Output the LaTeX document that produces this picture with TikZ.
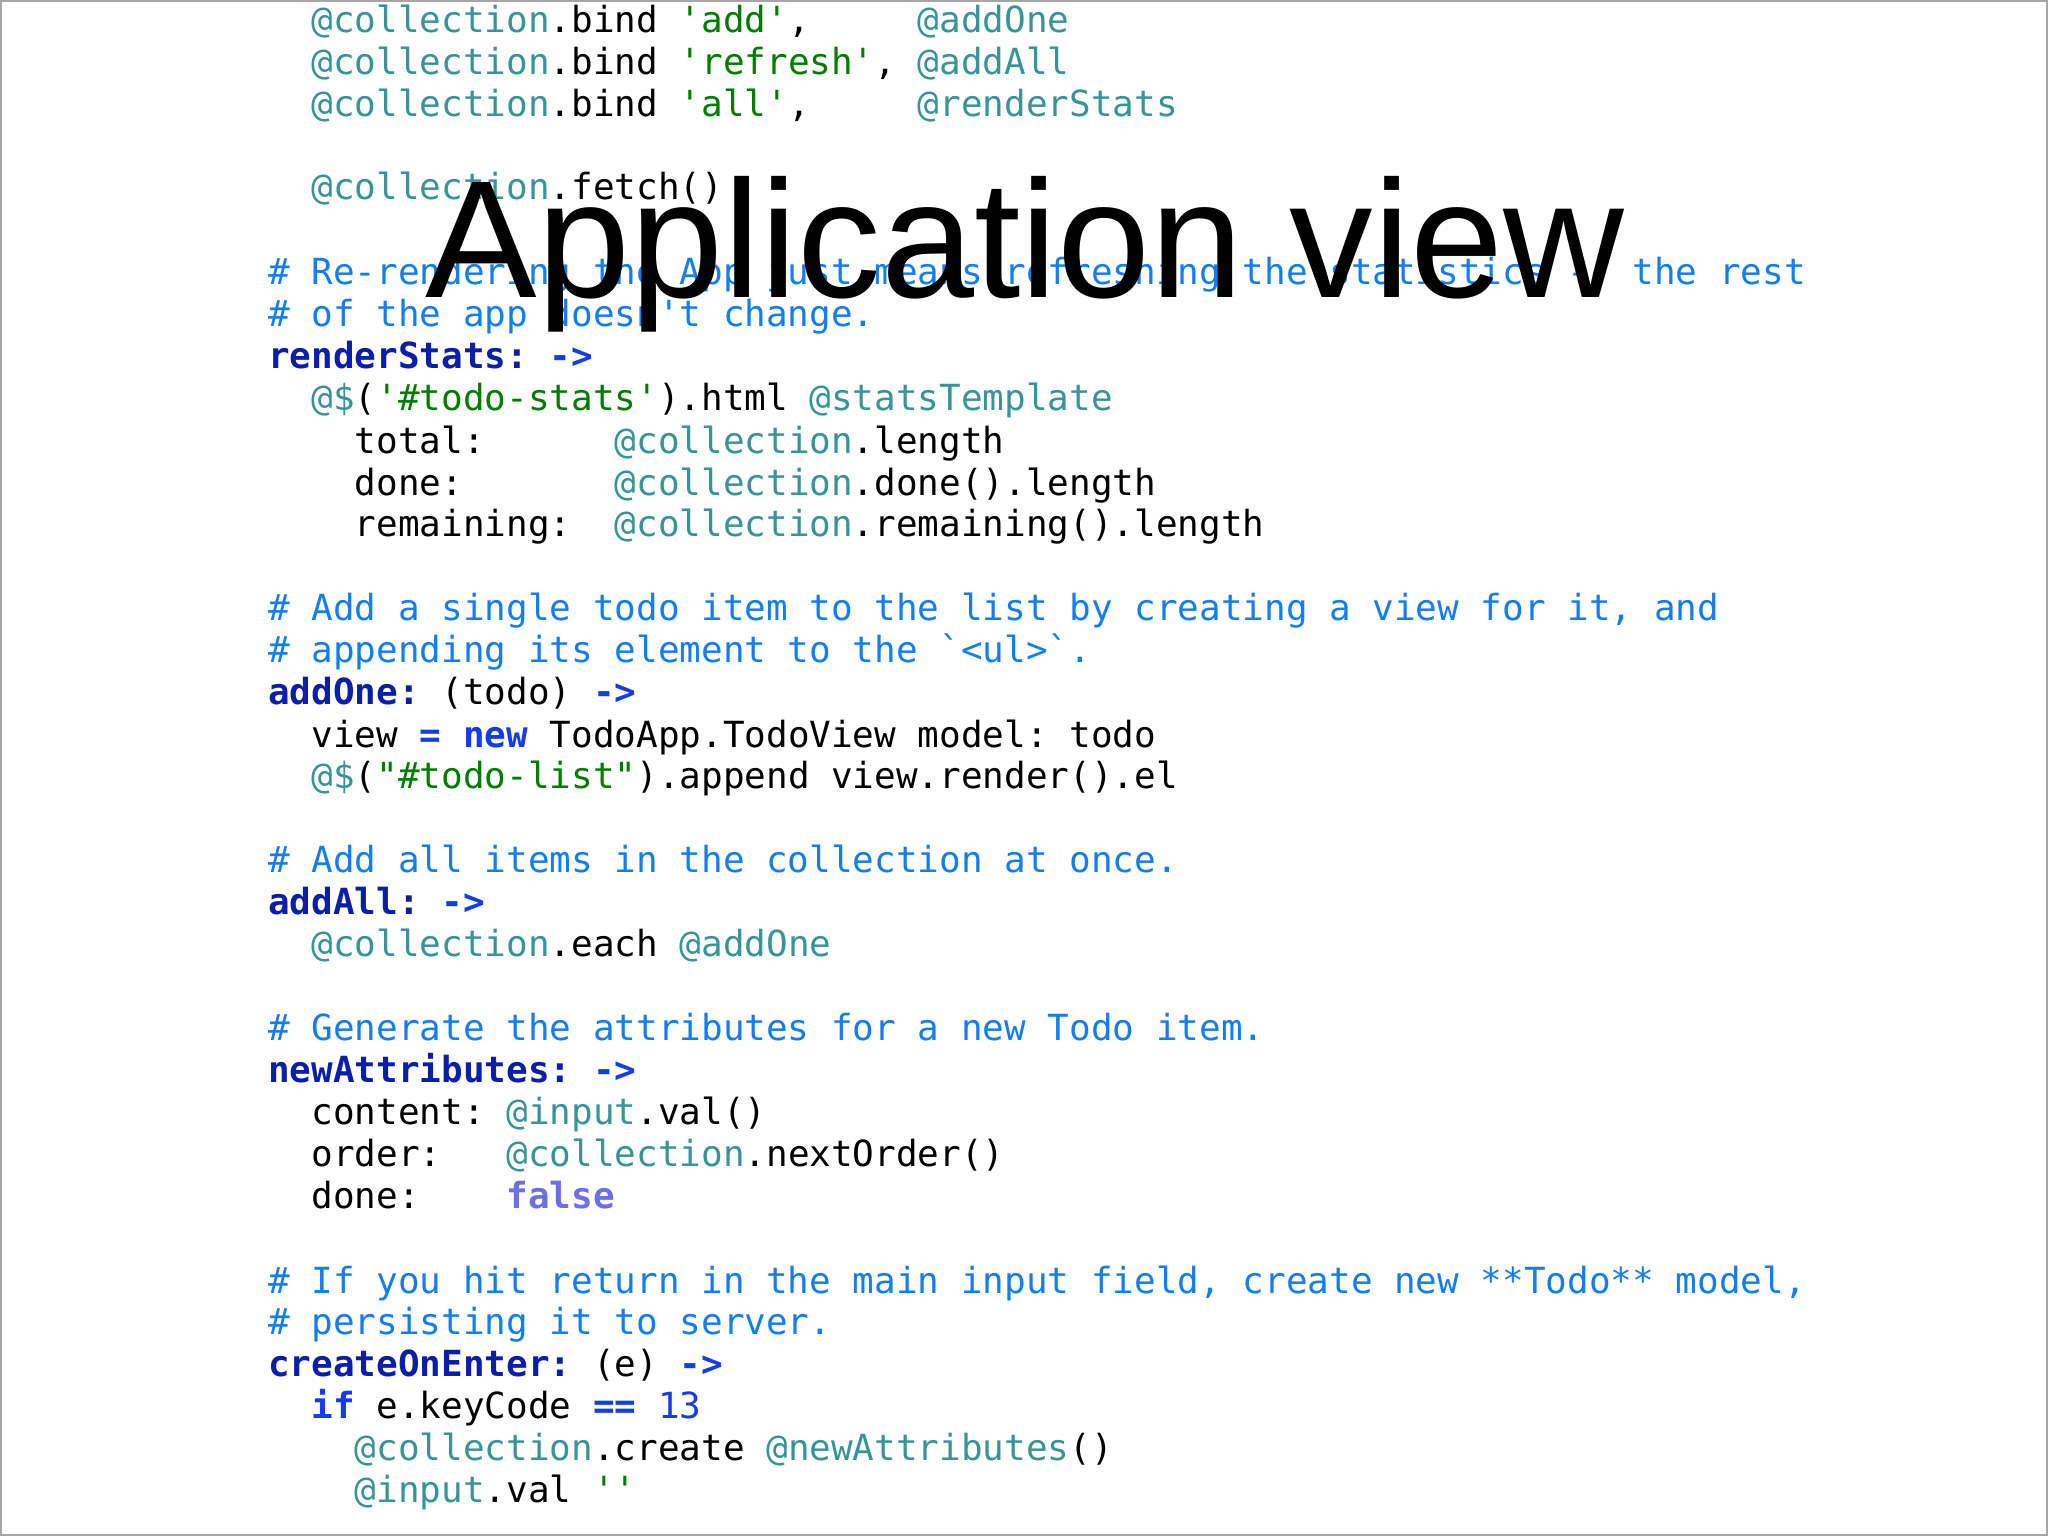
\documentclass[tikz,border=0pt]{standalone}
\usepackage{fontspec}
\setmonofont{DejaVu Sans Mono}
\newfontfamily\titlefont{Liberation Sans}
\definecolor{cat}{RGB}{56,148,150}
\definecolor{cst}{RGB}{0,125,0}
\definecolor{ccm}{RGB}{20,125,240}
\definecolor{ckw}{RGB}{10,30,170}
\definecolor{car}{RGB}{20,60,235}
\definecolor{cfl}{RGB}{110,110,230}
\newcommand\at[1]{{\color{cat}#1}}
\newcommand\st[1]{{\color{cst}#1}}
\newcommand\cm[1]{{\color{ccm}#1}}
\newcommand\kw[1]{{\color{ckw}\bfseries #1}}
\newcommand\ar[1]{{\color{car}\bfseries #1}}
\tikzset{codeline/.style={anchor=west,inner sep=0pt,text height=0.75em,text depth=0.25em,font=\ttfamily\fontsize{13.77}{16}\selectfont}}
\newcommand\codeln[4]{\node[codeline] (#1) at ({205+16.58*#2},{#3+5}) {#4};}
\begin{document}
\begin{tikzpicture}[x=0.5pt,y=-0.5pt]
\useasboundingbox (0,0) rectangle (1568,1176);
\draw[gray!70,line width=0.8pt] (0.5,0.5) rectangle (1567.5,1175.5);
\codeln{l1}{2}{15}{\at{@collection}.bind \st{'add'},~~~~~\at{@addOne}}
\codeln{l2}{2}{47}{\at{@collection}.bind \st{'refresh'}, \at{@addAll}}
\codeln{l3}{2}{79}{\at{@collection}.bind \st{'all'},~~~~~\at{@renderStats}}
\codeln{l4}{2}{143}{\at{@collection}.fetch()}
\codeln{l5}{0}{208}{\cm{\# Re-rendering the App just means refreshing the statistics -- the rest}}
\codeln{l6}{0}{240}{\cm{\# of the app doesn't change.}}
\codeln{l7}{0}{272}{\kw{renderStats:} \ar{->}}
\codeln{l8}{2}{304}{\at{@\$}(\st{'\#todo-stats'}).html \at{@statsTemplate}}
\codeln{l9}{4}{337}{total:~~~~~~\at{@collection}.length}
\codeln{l10}{4}{369}{done:~~~~~~~\at{@collection}.done().length}
\codeln{l11}{4}{401}{remaining:~~\at{@collection}.remaining().length}
\codeln{l12}{0}{465}{\cm{\# Add a single todo item to the list by creating a view for it, and}}
\codeln{l13}{0}{497}{\cm{\# appending its element to the `<ul>`.}}
\codeln{l14}{0}{529}{\kw{addOne:} (todo) \ar{->}}
\codeln{l15}{2}{562}{view \ar{=} \ar{new} TodoApp.TodoView model: todo}
\codeln{l16}{2}{594}{\at{@\$}(\st{"\#todo-list"}).append view.render().el}
\codeln{l17}{0}{658}{\cm{\# Add all items in the collection at once.}}
\codeln{l18}{0}{690}{\kw{addAll:} \ar{->}}
\codeln{l19}{2}{722}{\at{@collection}.each \at{@addOne}}
\codeln{l20}{0}{787}{\cm{\# Generate the attributes for a new Todo item.}}
\codeln{l21}{0}{819}{\kw{newAttributes:} \ar{->}}
\codeln{l22}{2}{851}{content: \at{@input}.val()}
\codeln{l23}{2}{883}{order:~~~\at{@collection}.nextOrder()}
\codeln{l24}{2}{915}{done:~~~~{\color{cfl}\bfseries false}}
\codeln{l25}{0}{980}{\cm{\# If you hit return in the main input field, create new **Todo** model,}}
\codeln{l26}{0}{1012}{\cm{\# persisting it to server.}}
\codeln{l27}{0}{1044}{\kw{createOnEnter:} (e) \ar{->}}
\codeln{l28}{2}{1076}{\ar{if} e.keyCode \ar{==} {\color{car}13}}
\codeln{l29}{4}{1108}{\at{@collection}.create \at{@newAttributes}()}
\codeln{l30}{4}{1140}{\at{@input}.val \st{''}}
\node[anchor=base,inner sep=0pt,font=\titlefont\fontsize{64}{70}\selectfont] (title) at (785,228) {Application view};
\end{tikzpicture}
\end{document}
